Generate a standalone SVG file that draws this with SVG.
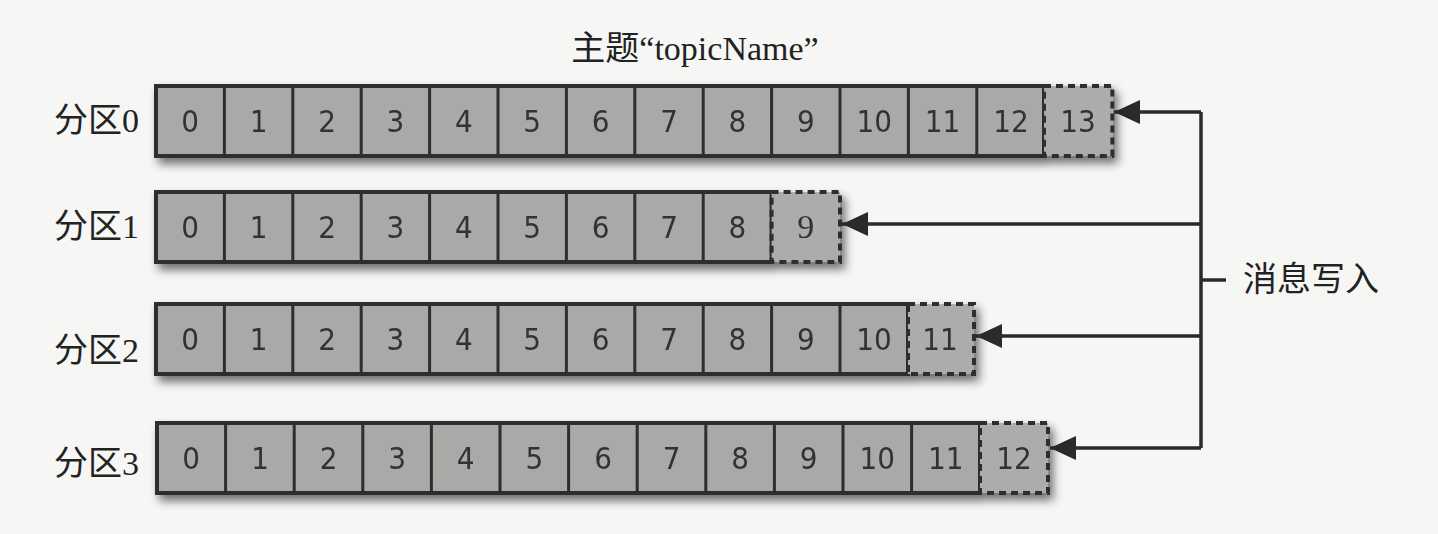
<svg xmlns="http://www.w3.org/2000/svg" width="1438" height="534" viewBox="0 0 1438 534">
<defs>
<filter id="sh" x="-5%" y="-30%" width="110%" height="170%">
<feGaussianBlur in="SourceAlpha" stdDeviation="5"/>
<feOffset dx="4" dy="6" result="b"/>
<feComponentTransfer><feFuncA type="linear" slope="0.55"/></feComponentTransfer>
<feMerge><feMergeNode/><feMergeNode in="SourceGraphic"/></feMerge>
</filter>
<marker id="ah" markerWidth="26" markerHeight="24" refX="26" refY="12" orient="auto" markerUnits="userSpaceOnUse">
<path d="M26,12 L0,0 L0,24 Z" fill="#2a2a2a"/>
</marker>
</defs>
<style>
.bg{fill:#f6f6f4}
.bar{fill:#a9a9a7;stroke:#2e2e2e;stroke-width:4}
.sep{stroke:#2e2e2e;stroke-width:3}
.last{fill:#acacaa;stroke:#2e2e2e;stroke-width:4;stroke-dasharray:7,5}
.n{font-family:"DejaVu Sans Condensed","Liberation Sans",sans-serif;font-stretch:condensed;font-size:31px;fill:#333;text-anchor:middle}
.s{font-family:"Liberation Serif",serif;font-size:34px;fill:#333;text-anchor:middle}
.lbl{font-family:"Liberation Serif","Noto Sans CJK SC",serif;font-size:34px;fill:#222}
.con{fill:none;stroke:#2a2a2a;stroke-width:3.5}
</style>
<rect class="bg" x="0" y="0" width="1438" height="534"/>
<text class="lbl" x="695" y="60" text-anchor="middle">主题“topicName”</text>

<g id="p0" filter="url(#sh)">
<rect class="bar" x="156" y="86" width="888" height="70"/>
<path class="sep" d="M224.4,86V156M292.8,86V156M361.2,86V156M429.6,86V156M498,86V156M566.4,86V156M634.8,86V156M703.2,86V156M771.6,86V156M840,86V156M908.4,86V156M976.8,86V156"/>
<rect class="last" x="1044" y="86" width="68.4" height="70"/>
<g class="n"><text x="190" y="132">0</text><text x="258.6" y="132">1</text><text x="327" y="132">2</text><text x="395.4" y="132">3</text><text x="463.8" y="132">4</text><text x="532.2" y="132">5</text><text x="600.6" y="132">6</text><text x="669" y="132">7</text><text x="737.4" y="132">8</text><text x="805.8" y="132">9</text><text x="874.2" y="132">10</text><text x="942.6" y="132">11</text><text x="1011" y="132">12</text><text x="1078" y="132">13</text></g>
</g>
<text class="lbl" x="54" y="132">分区0</text>

<g id="p1" filter="url(#sh)">
<rect class="bar" x="156" y="192" width="615.6" height="70"/>
<path class="sep" d="M224.4,192V262M292.8,192V262M361.2,192V262M429.6,192V262M498,192V262M566.4,192V262M634.8,192V262M703.2,192V262"/>
<rect class="last" x="771.6" y="192" width="68.4" height="70"/>
<g class="n"><text x="190" y="238">0</text><text x="258.6" y="238">1</text><text x="327" y="238">2</text><text x="395.4" y="238">3</text><text x="463.8" y="238">4</text><text x="532.2" y="238">5</text><text x="600.6" y="238">6</text><text x="669" y="238">7</text><text x="737.4" y="238">8</text></g>
<text class="s" x="805.8" y="238">9</text>
</g>
<text class="lbl" x="54" y="238">分区1</text>

<g id="p2" filter="url(#sh)">
<rect class="bar" x="156" y="304" width="752" height="70"/>
<path class="sep" d="M224.4,304V374M292.8,304V374M361.2,304V374M429.6,304V374M498,304V374M566.4,304V374M634.8,304V374M703.2,304V374M771.6,304V374M840,304V374"/>
<rect class="last" x="908" y="304" width="66" height="70"/>
<g class="n"><text x="190" y="350">0</text><text x="258.6" y="350">1</text><text x="327" y="350">2</text><text x="395.4" y="350">3</text><text x="463.8" y="350">4</text><text x="532.2" y="350">5</text><text x="600.6" y="350">6</text><text x="669" y="350">7</text><text x="737.4" y="350">8</text><text x="805.8" y="350">9</text><text x="874" y="350">10</text><text x="940" y="350">11</text></g>
</g>
<text class="lbl" x="54" y="362">分区2</text>

<g id="p3" filter="url(#sh)">
<rect class="bar" x="157" y="423" width="823" height="70"/>
<path class="sep" d="M225.6,423V493M294.2,423V493M362.8,423V493M431.4,423V493M500,423V493M568.6,423V493M637.2,423V493M705.8,423V493M774.4,423V493M843,423V493M911.6,423V493"/>
<rect class="last" x="980" y="423" width="68" height="70"/>
<g class="n"><text x="191" y="469">0</text><text x="260" y="469">1</text><text x="328.5" y="469">2</text><text x="397" y="469">3</text><text x="465.7" y="469">4</text><text x="534.3" y="469">5</text><text x="603" y="469">6</text><text x="671.5" y="469">7</text><text x="740" y="469">8</text><text x="808.7" y="469">9</text><text x="877.3" y="469">10</text><text x="945.8" y="469">11</text><text x="1014" y="469">12</text></g>
</g>
<text class="lbl" x="54" y="475">分区3</text>

<g id="connectors">
<path class="con" d="M1201,112V448"/>
<path class="con" d="M1201,112H1114" marker-end="url(#ah)"/>
<path class="con" d="M1201,224H842" marker-end="url(#ah)"/>
<path class="con" d="M1201,336H976" marker-end="url(#ah)"/>
<path class="con" d="M1201,448H1050" marker-end="url(#ah)"/>
<path class="con" d="M1201,280H1226"/>
</g>
<g id="writer">
<text class="lbl" x="1243" y="291">消息写入</text>
</g>
</svg>
